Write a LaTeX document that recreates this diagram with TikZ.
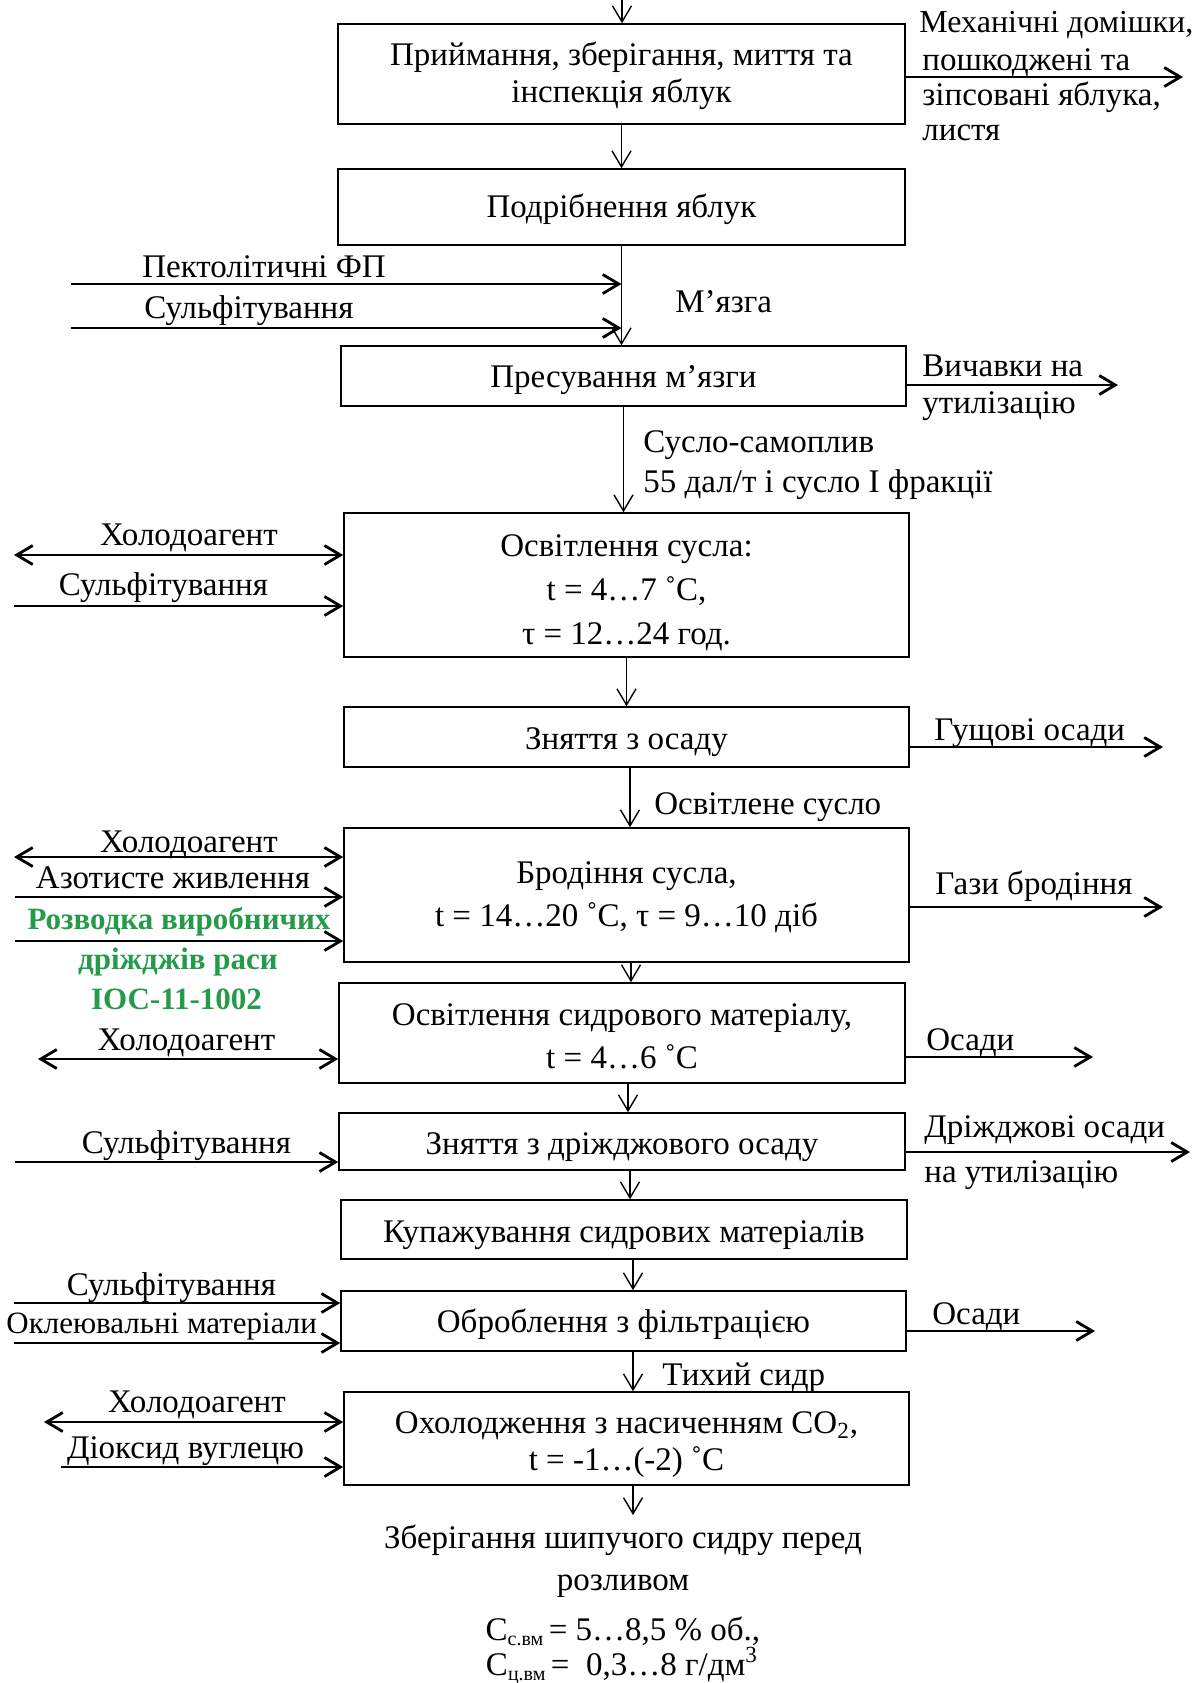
\documentclass[tikz,border=0pt]{standalone}
\usepackage{fontspec}
\setmainfont{Liberation Serif}
\usetikzlibrary{arrows.meta}
\definecolor{grn}{RGB}{35,155,75}
\newcommand{\lowsub}[1]{\raisebox{-2.5pt}{\fontsize{10}{10}\selectfont #1}}
\begin{document}
\begin{tikzpicture}[x=0.5pt,y=-0.5pt,
  >={Straight Barb[length=8pt,width=9.5pt]},
  every node/.style={font=\fontsize{16.5}{19}\selectfont, inner sep=0pt},
  fs/.style={font=\fontsize{16.5}{#1}\selectfont},
  box/.style={draw, line width=0.8pt},
  btxt/.style={align=center},
  flow/.style={line width=0.7pt, ->},
  inp/.style={line width=1.4pt, ->},
  dbl/.style={line width=1.4pt, <->},
  lbl/.style={anchor=base},
  rl/.style={anchor=base west},
  gl/.style={anchor=base, text=grn, font=\fontsize{15.5}{19}\selectfont\bfseries}
]
\fill[white] (0,0) rectangle (1192,1683);
\useasboundingbox (0,0) rectangle (1192,1683);

% boxes
\node[box, minimum width=283.5pt, minimum height=50pt] (b1) at (621.5,74) {};
\node[box, minimum width=283.5pt, minimum height=38pt] (b2) at (621.5,207) {};
\node[box, minimum width=282.5pt, minimum height=30pt] (b3) at (623.5,376) {};
\node[box, minimum width=282.5pt, minimum height=72pt] (b4) at (626.5,585) {};
\node[box, minimum width=282.5pt, minimum height=30pt] (b5) at (626.5,737) {};
\node[box, minimum width=282.5pt, minimum height=67pt] (b6) at (626.5,895) {};
\node[box, minimum width=283pt, minimum height=50pt] (b7) at (622,1033) {};
\node[box, minimum width=283pt, minimum height=28.5pt] (b8) at (622,1141.5) {};
\node[box, minimum width=283pt, minimum height=29.5pt] (b9) at (624,1229.5) {};
\node[box, minimum width=282.5pt, minimum height=30pt] (b10) at (623.5,1321) {};
\node[box, minimum width=282.5pt, minimum height=46.5pt] (b11) at (626.5,1438.5) {};

% box texts
\node[btxt, fs=18.5pt] (b1t) at ([yshift=-1pt]b1.center) {Приймання, зберігання, миття та\\інспекція яблук};
\node[btxt] (b2t) at ([yshift=-1pt]b2.center) {Подрібнення яблук};
\node[btxt] (b3t) at ([yshift=-2pt]b3.center) {Пресування м’язги};
\node[btxt, fs=22pt] (b4t) at ([yshift=-3.75pt]b4.center) {Освітлення сусла:\\t = 4…7 ˚С,\\τ = 12…24 год.};
\node[btxt] (b5t) at ([yshift=-2.5pt]b5.center) {Зняття з осаду};
\node[btxt, fs=21.5pt] (b6t) at ([yshift=-1pt]b6.center) {Бродіння сусла,\\t = 14…20 ˚С, τ = 9…10 діб};
\node[btxt, fs=21.5pt] (b7t) at ([yshift=-1.75pt]b7.center) {Освітлення сидрового матеріалу,\\t = 4…6 ˚С};
\node[btxt] (b8t) at ([yshift=-3pt]b8.center) {Зняття з дріжджового осаду};
\node[btxt] (b9t) at ([yshift=-3pt]b9.center) {Купажування сидрових матеріалів};
\node[btxt] (b10t) at ([yshift=-1.5pt]b10.center) {Оброблення з фільтрацією};
\node[btxt, fs=18.5pt] (b11t) at ([yshift=-3pt]b11.center) {Охолодження з насиченням CO\textsubscript{2},\\t = -1…(-2) ˚С};

% main flow
\coordinate (top) at (622,0);
\coordinate (endc) at (633,1515);
\draw[flow] (top) -- (top |- b1.north);
\draw[flow] (b1.south) -- (b1.south |- b2.north);
\draw[flow] (b2.south) -- (b2.south |- b3.north);
\draw[flow] (b3.south) -- (b3.south |- b4.north);
\draw[flow] (b4.south) -- (b4.south |- b5.north);
\draw[flow] ([xshift=1.75pt]b5.south) -- ([xshift=1.75pt]b5.south |- b6.north);
\draw[flow] ([xshift=2.25pt]b6.south) -- ([xshift=2.25pt]b6.south |- b7.north);
\draw[flow] ([xshift=3pt]b7.south) -- ([xshift=3pt]b7.south |- b8.north);
\draw[flow] ([xshift=4pt]b8.south) -- ([xshift=4pt]b8.south |- b9.north);
\draw[flow] ([xshift=4.5pt]b9.south) -- ([xshift=4.5pt]b9.south |- b10.north);
\draw[flow] ([xshift=4.75pt]b10.south) -- ([xshift=4.75pt]b10.south |- b11.north);
\draw[flow] (endc |- b11.south) -- (endc);

% inputs between b2 and b3
\coordinate (p1) at (71,284);
\coordinate (p2) at (71,328);
\draw[inp] (p1) -- (p1 -| b2.south);
\draw[inp] (p2) -- (p2 -| b2.south);
\node[lbl] (tp1) at (264,277) {Пектолітичні ФП};
\node[lbl] (tp2) at (249,318) {Сульфітування};
\node[rl] (tmz) at (675,312) {М’язга};

% b4 inputs
\coordinate (l4a) at (14,555);
\coordinate (l4b) at (14,606);
\draw[dbl] (l4a) -- (l4a -| b4.west);
\draw[inp] (l4b) -- (l4b -| b4.west);
\node[lbl] (t4a) at (189,545) {Холодоагент};
\node[lbl] (t4b) at (163.5,595) {Сульфітування};

% b6 inputs
\coordinate (l6a) at (14,857);
\coordinate (l6b) at (15,897);
\coordinate (l6c) at (15,941);
\draw[dbl] (l6a) -- (l6a -| b6.west);
\draw[inp] (l6b) -- (l6b -| b6.west);
\draw[inp] (l6c) -- (l6c -| b6.west);
\node[lbl] (t6a) at (189,852) {Холодоагент};
\node[lbl] (t6b) at (173,888) {Азотисте живлення};
\node[gl] (t6c) at (179,929) {Розводка виробничих};
\node[gl] (t6d) at (178,969) {дріжджів раси};
\node[gl] (t6e) at (176.5,1009) {ІОС-11-1002};

% b7 input
\coordinate (l7a) at (38,1059);
\draw[dbl] (l7a) -- (l7a -| b7.west);
\node[lbl] (t7a) at (186.5,1050) {Холодоагент};

% b8 input
\coordinate (l8a) at (15,1162);
\draw[inp] (l8a) -- (l8a -| b8.west);
\node[lbl] (t8a) at (186.5,1153) {Сульфітування};

% b10 inputs
\coordinate (l10a) at (14,1303);
\coordinate (l10b) at (14,1343);
\draw[inp] (l10a) -- (l10a -| b10.west);
\draw[inp] (l10b) -- (l10b -| b10.west);
\node[lbl] (t10a) at (171.5,1295) {Сульфітування};
\node[rl, font=\fontsize{15.5}{19}\selectfont] (t10b) at (6,1333) {Оклеювальні матеріали};

% b11 inputs
\coordinate (l11a) at (44,1422);
\coordinate (l11b) at (61,1467);
\draw[dbl] (l11a) -- (l11a -| b11.west);
\draw[inp] (l11b) -- (l11b -| b11.west);
\node[lbl] (t11a) at (197,1412) {Холодоагент};
\node[lbl] (t11b) at (185.5,1458) {Діоксид вуглецю};

% outputs
\coordinate (e1) at (1183,77);
\coordinate (e3) at (1118,385);
\coordinate (e5) at (1163,747);
\coordinate (e6) at (1163,907);
\coordinate (e7) at (1093,1057);
\coordinate (e8) at (1190,1152);
\coordinate (e10) at (1095,1331);
\draw[inp] (e1 -| b1.east) -- (e1);
\draw[inp] (e3 -| b3.east) -- (e3);
\draw[inp] (e5 -| b5.east) -- (e5);
\draw[inp] (e6 -| b6.east) -- (e6);
\draw[inp] (e7 -| b7.east) -- (e7);
\draw[inp] (e8 -| b8.east) -- (e8);
\draw[inp] (e10 -| b10.east) -- (e10);

\node[rl, font=\fontsize{16}{19}\selectfont] (r1a) at (919,32) {Механічні домішки,};
\node[rl] (r1b) at (922,70) {пошкоджені та};
\node[rl] (r1c) at (922,105) {зіпсовані яблука,};
\node[rl] (r1d) at (922,140) {листя};
\node[rl] (r3a) at (922,376) {Вичавки на};
\node[rl] (r3b) at (922,413) {утилізацію};
\node[rl] (r5) at (934,740) {Гущові осади};
\node[rl] (r6) at (935,894) {Гази бродіння};
\node[rl] (r7) at (926,1050) {Осади};
\node[rl] (r8a) at (924,1137) {Дріжджові осади};
\node[rl] (r8b) at (924,1182) {на утилізацію};
\node[rl] (r10) at (932,1324) {Осади};

% flow labels
\node[rl] (m4a) at (643,452) {Сусло-самоплив};
\node[rl] (m4b) at (643,492) {55 дал/т і сусло І фракції};
\node[rl] (m6) at (654,814) {Освітлене сусло};
\node[rl] (m11) at (662,1385) {Тихий сидр};

% final product
\node[lbl] (f1) at (623,1548) {Зберігання шипучого сидру перед};
\node[lbl] (f2) at (623,1590) {розливом};
\node[lbl] (f3) at (623,1640) {С\lowsub{с.вм}\,= 5…8,5 \% об.,};
\node[lbl] (f4) at (622,1675) {С\lowsub{ц.вм}\,=\ \ 0,3…8 г/дм\textsuperscript{3}};
\end{tikzpicture}
\end{document}
